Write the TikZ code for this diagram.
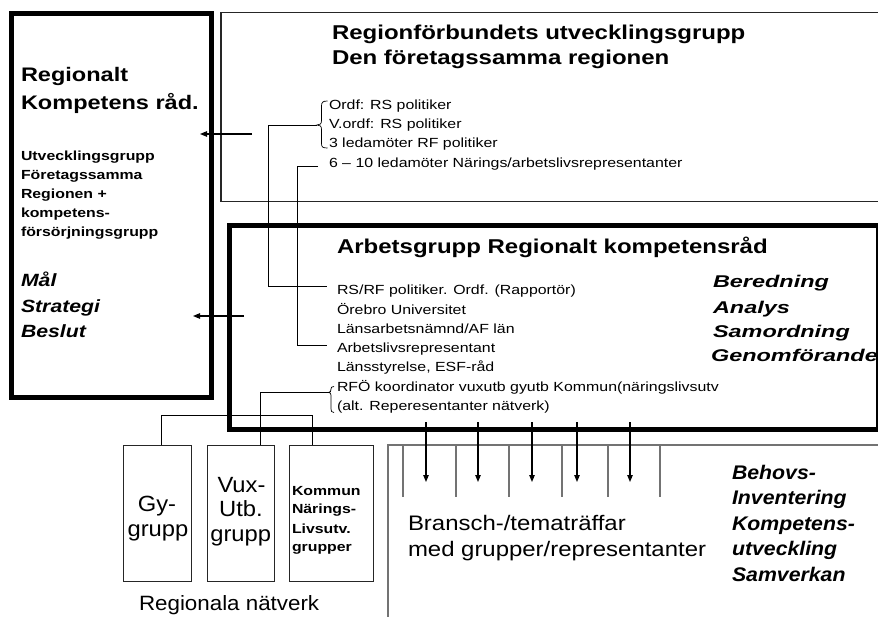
\documentclass[tikz,border=0pt]{standalone}
\usepackage{fontspec}
\setmainfont{Liberation Sans}
\newfontfamily\fa[FakeStretch=1.2]{Liberation Sans}
\newfontfamily\fb[FakeStretch=1.38]{Liberation Sans}
\newfontfamily\fc[FakeStretch=1.08]{Liberation Sans}
\newfontfamily\fd[FakeStretch=1.14]{Liberation Sans}
\newcommand\myfs[1]{\fontsize{#1}{#1}\selectfont}
\usetikzlibrary{arrows.meta}
\begin{document}
\begin{tikzpicture}[x=1pt,y=-1pt,
  txt/.style={anchor=base west, inner sep=0pt, outer sep=0pt},
  ctx/.style={anchor=base, inner sep=0pt, outer sep=0pt},
  conn/.style={draw=black, line width=0.9pt},
  brc/.style={draw=black, line width=0.7pt},
  arr/.style={draw=black, line width=1.1pt, -{Triangle[length=7pt,width=5.5pt]}},
  gline/.style={draw=black!55, line width=1.2pt},
  thinbox/.style={draw=black!85, line width=1pt, inner sep=0pt, outer sep=0pt},
  thickbox/.style={draw=black, inner sep=0pt, outer sep=0pt},
  lst/.style={txt, font={\fa\myfs{13.25}}},
  ttl/.style={txt, font={\fa\bfseries\myfs{20}}},
  sbold/.style={txt, font={\fa\bfseries\myfs{13.2}}},
  bitl/.style={txt, font={\fa\bfseries\itshape\myfs{17.7}}},
  ritl/.style={txt, font={\fb\bfseries\itshape\myfs{17}}},
  bitr/.style={txt, font={\fc\bfseries\itshape\myfs{19.7}}},
  bigt/.style={ctx, font={\fc\myfs{22}}}
]
\useasboundingbox (0,0) rectangle (878,617);
\fill[white] (0,0) rectangle (878,617);

% ---------- boxes ----------
\node[thickbox, line width=4.5pt, minimum width=200.2pt, minimum height=384.2pt] (lbox) at (111.6,205.4) {};
\draw[draw=black!85, line width=1.3pt] (878,12.5) -| (221,201.5) -- (878,201.5);
\node[thickbox, line width=5.5pt, minimum width=649pt, minimum height=204pt] (ag) at (554,327.5) {};

\node[thinbox, minimum width=68pt, minimum height=136pt] (gy) at (157,513) {};
\node[thinbox, minimum width=67pt, minimum height=136pt] (vux) at (240.5,513) {};
\node[thinbox, minimum width=84pt, minimum height=136pt] (kommun) at (331,513) {};

% ---------- left box text ----------
\node[txt, font={\fa\bfseries\myfs{19.6}}] (lt1) at (21,82) {Regionalt};
\node[txt, font={\fa\bfseries\myfs{19.6}}] (lt2) at (21,110) {Kompetens råd.};
\node[sbold] (ls1) at (21,161) {Utvecklingsgrupp};
\node[sbold] (ls2) at (21,179.5) {Företagssamma};
\node[sbold] (ls3) at (21,198.5) {Regionen +};
\node[sbold] (ls4) at (21,217.5) {kompetens-};
\node[sbold] (ls5) at (21,236.5) {försörjningsgrupp};
\node[bitl] (m1) at (21,287) {Mål};
\node[bitl] (m2) at (21,313) {Strategi};
\node[bitl] (m3) at (21,338) {Beslut};

% ---------- top box text ----------
\node[ttl] (rt1) at (332,40) {Regionförbundets utvecklingsgrupp};
\node[ttl] (rt2) at (332,65) {Den företagssamma regionen};
\node[lst] (o1) at (329,109.3) {Ordf: RS politiker};
\node[lst] (o2) at (329,128.7) {V.ordf: RS politiker};
\node[lst] (o3) at (329,148) {3 ledamöter RF politiker};
\node[lst] (o4) at (329,167.3) {6 – 10 ledamöter Närings/arbetslivsrepresentanter};

% ---------- Arbetsgrupp text ----------
\node[ttl] (at) at (337,254) {Arbetsgrupp Regionalt kompetensråd};
\node[lst] (a1) at (337,295) {RS/RF politiker. Ordf. (Rapportör)};
\node[lst] (a2) at (337,314.5) {Örebro Universitet};
\node[lst] (a3) at (337,333.5) {Länsarbetsnämnd/AF län};
\node[lst] (a4) at (337,352.7) {Arbetslivsrepresentant};
\node[lst] (a5) at (337,371.7) {Länsstyrelse, ESF-råd};
\node[lst] (a6) at (337,391.5) {RFÖ koordinator vuxutb gyutb Kommun(näringslivsutv};
\node[lst] (a7) at (337,410.5) {(alt. Reperesentanter nätverk)};
\node[ritl] (r1) at (713,287.7) {Beredning};
\node[ritl] (r2) at (713,313.3) {Analys};
\node[ritl] (r3) at (713,337.3) {Samordning};
\node[ritl] (r4) at (711,361.7) {Genomförande};

% ---------- braces ----------
\draw[brc] (327.5,101) .. controls (322.5,101) and (321.5,102.5) .. (321.5,106) -- (321.5,120.5)
  .. controls (321.5,124) and (320,125) .. (317,125)
  .. controls (320,125) and (321.5,126) .. (321.5,129.5) -- (321.5,143.5)
  .. controls (321.5,147) and (322.5,148) .. (327.5,148);
\draw[brc] (334,386.5) .. controls (331.5,386.5) and (331,387.5) .. (331,389)
  .. controls (331,391) and (330.5,392.5) .. (328.5,392.5)
  .. controls (330.5,392.5) and (331,393.5) .. (331,395.5) -- (331,409)
  .. controls (331,411) and (331.5,412.5) .. (334,412.5);

% ---------- connectors ----------
\coordinate (b1) at (317,125.5);
\coordinate (h1) at (327,286);
\coordinate (b6) at (318,166);
\coordinate (h2) at (327,345);
\coordinate (b2) at (328.5,392.5);
\draw[conn] (b1) -| (268,286) -- (h1);
\draw[conn] (b6) -| (297,345) -- (h2);
\draw[conn] (b2) -| ([xshift=19.5pt]vux.north);
\draw[conn] ([xshift=4pt]gy.north) -- ++(0,-30) -| ([xshift=-19pt]kommun.north);

\coordinate (p1s) at (252,134);
\coordinate (p1e) at (200,134);
\coordinate (p2s) at (244,316);
\coordinate (p2e) at (193,316);
\draw[arr] (p1s) -- (p1e);
\draw[arr] (p2s) -- (p2e);

% ---------- bottom: regional networks ----------
\node[bigt] (g1) at (157,511.7) {Gy-};
\node[bigt] (g2) at (158,536.7) {grupp};
\node[bigt] (v1) at (241.5,492) {Vux-};
\node[bigt] (v2) at (241,516.5) {Utb.};
\node[bigt] (v3) at (240.7,541) {grupp};
\node[sbold] (k1) at (292,495) {Kommun};
\node[sbold] (k2) at (292,513.5) {Närings-};
\node[sbold] (k3) at (292,533) {Livsutv.};
\node[sbold] (k4) at (292,551.7) {grupper};
\node[txt, font={\fc\myfs{20.7}}] (rn) at (139,610) {Regionala nätverk};

% ---------- bottom right ----------
\draw[gline] (388,617) -- (388,445) -- (878,445);
\foreach \x in {403,456,509,562,608,660} \draw[gline] (\x,445) -- (\x,497);
\foreach \x in {426,478,532,577,630} \draw[arr] (\x,422) -- (\x,482);
\node[txt, font={\fd\myfs{21}}] (br1) at (408,530) {Bransch-/tematräffar};
\node[txt, font={\fd\myfs{21}}] (br2) at (408,556.7) {med grupper/representanter};
\node[bitr] (bh1) at (732,479) {Behovs-};
\node[bitr] (bh2) at (732,504.5) {Inventering};
\node[bitr] (bh3) at (732,530) {Kompetens-};
\node[bitr] (bh4) at (732,555.5) {utveckling};
\node[bitr] (bh5) at (732,581) {Samverkan};
\end{tikzpicture}
\end{document}
